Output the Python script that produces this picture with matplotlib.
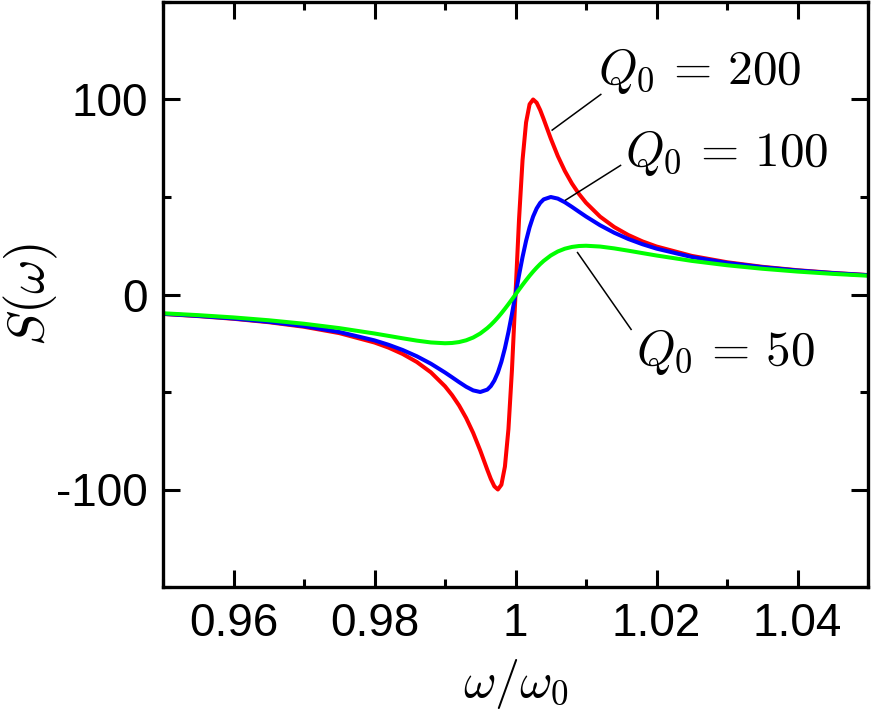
import matplotlib.pyplot as plt
from matplotlib.ticker import MultipleLocator

plt.rcParams['mathtext.fontset'] = 'cm'
plt.rcParams['font.family'] = ['Liberation Sans', 'DejaVu Sans']

# frequency axis, omega / omega_0
w = [0.95, 0.955, 0.96, 0.965, 0.97, 0.975, 0.98, 0.982, 0.984, 0.986, 0.988,
     0.99, 0.991, 0.992, 0.993, 0.994, 0.995, 0.996, 0.9965, 0.997, 0.9975,
     0.998, 0.9985, 0.999, 0.9995, 1.0, 1.0005, 1.001, 1.0015, 1.002, 1.0025,
     1.003, 1.0035, 1.004, 1.005, 1.006, 1.007, 1.008, 1.009, 1.01, 1.012,
     1.014, 1.016, 1.018, 1.02, 1.025, 1.03, 1.035, 1.04, 1.045, 1.05]

# S(omega) for Q0 = 200
s_200 = [-9.98, -11.08, -12.45, -14.21, -16.55, -19.80, -24.62, -27.25, -30.51,
         -34.61, -39.93, -47.06, -51.58, -56.94, -63.35, -71.01, -80.0, -89.89,
         -94.59, -98.36, -100.0, -97.56, -88.24, -68.97, -38.46, 0.0,
         38.46, 68.97, 88.24, 97.56, 100.0, 98.36, 94.59, 89.89, 80.0, 71.01,
         63.35, 56.94, 51.58, 47.06, 39.93, 34.61, 30.51, 27.25, 24.62, 19.80,
         16.55, 14.21, 12.45, 11.08, 9.98]

# S(omega) for Q0 = 100
s_100 = [-9.90, -10.98, -12.31, -14.00, -16.22, -19.23, -23.53, -25.79, -28.47,
         -31.67, -35.50, -40.00, -42.45, -44.94, -47.30, -49.18, -50.00, -48.78,
         -46.98, -44.12, -40.00, -34.48, -27.52, -19.23, -9.90, 0.0,
         9.90, 19.23, 27.52, 34.48, 40.00, 44.12, 46.98, 48.78, 50.00, 49.18,
         47.30, 44.94, 42.45, 40.00, 35.50, 31.67, 28.47, 25.79, 23.53, 19.23,
         16.22, 14.00, 12.31, 10.98, 9.90]

# S(omega) for Q0 = 50
s_50 = [-9.62, -10.59, -11.76, -13.21, -15.00, -17.24, -20.00, -21.23, -22.47,
        -23.65, -24.59, -25.00, -24.86, -24.39, -23.49, -22.06, -20.00, -17.24,
        -15.59, -13.76, -11.76, -9.62, -7.33, -4.95, -2.49, 0.0,
        2.49, 4.95, 7.33, 9.62, 11.76, 13.76, 15.59, 17.24, 20.00, 22.06,
        23.49, 24.39, 24.86, 25.00, 24.59, 23.65, 22.47, 21.23, 20.00, 17.24,
        15.00, 13.21, 11.76, 10.59, 9.62]

fig = plt.figure(figsize=(8.71, 7.21), dpi=100)
ax = fig.add_axes([163 / 871, 1 - 587 / 721, 705 / 871, 585 / 721])

ax.plot(w, s_200, color='#ff0000', lw=2.9)
ax.plot(w, s_100, color='#0000ff', lw=2.9)
ax.plot(w, s_50, color='#00ff00', lw=2.9)

# labels with leader lines
ax.plot([1.0052, 1.0121], [84.3, 102.6], color='k', lw=1.1)
ax.plot([1.0071, 1.0149], [48.4, 66.2], color='k', lw=1.1)
ax.plot([1.0088, 1.0164], [21.5, -17.9], color='k', lw=1.1)
ax.text(1.0117, 107.7, r'$Q_0\,=\,200$', fontsize=35.5, ha='left', va='baseline')
ax.text(1.0156, 65.8, r'$Q_0\,=\,100$', fontsize=35.5, ha='left', va='baseline')
ax.text(1.0171, -35.9, r'$Q_0\,=\,50$', fontsize=35.5, ha='left', va='baseline')

ax.set_xlim(0.95, 1.05)
ax.set_ylim(-150, 150)
ax.xaxis.set_minor_locator(MultipleLocator(0.01))
ax.yaxis.set_minor_locator(MultipleLocator(50))
ax.set_xticks([0.96, 0.98, 1.0, 1.02, 1.04])
ax.set_xticklabels(['0.96', '0.98', '1', '1.02', '1.04'])
ax.set_yticks([-100, 0, 100])
ax.set_yticklabels(['-100', '0', '100'])

ax.tick_params(which='both', direction='in', top=True, right=True,
               width=2.2, labelsize=33)
ax.tick_params(which='major', length=12, pad=11)
ax.tick_params(which='minor', length=6)
for sp in ax.spines.values():
    sp.set_linewidth(2.4)

ax.set_xlabel(r'$\omega/\omega_0$', fontsize=36, labelpad=8)
ax.set_ylabel(r'$S(\omega)$', fontsize=38)
ax.yaxis.set_label_coords(-0.146, 0.5)

fig.savefig('out.png', dpi=100)
